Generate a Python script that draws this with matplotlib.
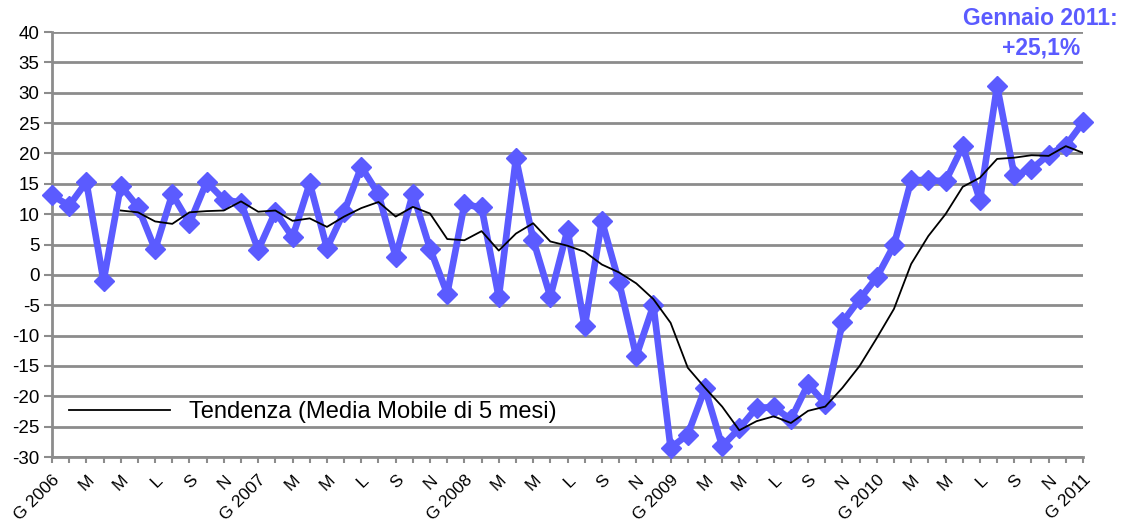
import matplotlib
matplotlib.use("Agg")
import matplotlib.pyplot as plt
import numpy as np

plt.rcParams['font.family'] = ['Liberation Sans', 'DejaVu Sans']
plt.rcParams['axes.unicode_minus'] = False

# monthly values, Jan 2006 .. Jan 2011 (% change)
valori = [13.1, 11.4, 15.3, -1.0, 14.7, 11.2, 4.2, 13.3, 8.5, 15.3,
          12.4, 11.9, 4.1, 10.4, 6.2, 15.1, 4.4, 10.4, 17.8, 13.3,
          3.0, 13.4, 4.3, -3.1, 11.6, 11.1, -3.7, 19.2, 5.8, -3.6,
          7.4, -8.5, 8.9, -1.2, -13.4, -5.0, -28.5, -26.3, -18.7, -28.2,
          -25.3, -21.9, -21.8, -23.8, -18.0, -21.2, -7.8, -4.0, -0.4, 4.9,
          15.6, 15.6, 15.4, 21.2, 12.3, 31.1, 16.4, 17.4, 19.8, 21.3, 25.1]

# trend line (5-month moving average), from May 2006
tendenza = [10.6, 10.3, 8.8, 8.4, 10.3, 10.5, 10.6, 12.1, 10.4, 10.6,
            8.9, 9.3, 7.9, 9.6, 11.0, 12.0, 9.6, 11.2, 10.1, 5.9,
            5.7, 7.2, 4.0, 6.8, 8.5, 5.5, 4.8, 3.8, 1.7, 0.4,
            -1.4, -4.0, -7.9, -15.3, -18.6, -21.7, -25.6, -24.1, -23.3, -24.4,
            -22.4, -21.7, -18.6, -15.0, -10.4, -5.6, 1.8, 6.4, 10.0, 14.5,
            16.0, 19.1, 19.3, 19.7, 19.6, 21.2, 20.1]

mesi = ["G", "M", "M", "L", "S", "N"]
anni = [2006, 2007, 2008, 2009, 2010, 2011]

etichette = []
for a in anni:
    for m in mesi:
        etichette.append(f"G {a}" if m == "G" else m)
etichette = etichette[:31]

blu = "#5B5BFF"
grigio = "#8C8C8C"

x = np.arange(len(valori))
xt = np.arange(4, len(valori))

fig = plt.figure(figsize=(11.22, 5.25), dpi=100)
ax = fig.add_axes([52 / 1122, 1 - 457 / 525, (1083 - 52) / 1122, (457 - 32) / 525])

ax.plot(x, valori, color=blu, lw=4.8, marker="D", ms=10, mec=blu, mfc=blu,
        clip_on=False, zorder=3)
ax.plot(xt, tendenza, color="black", lw=1.3, zorder=4,
        label="Tendenza (Media Mobile di 5 mesi)")

ax.set_xlim(0, len(valori) - 1)
ax.set_ylim(-30, 40)
ax.set_yticks(np.arange(-30, 41, 5))
ax.yaxis.grid(True, color=grigio, lw=2)
ax.set_axisbelow(True)

ax.set_xticks(np.arange(0, len(valori), 2))
ax.set_xticks(x, minor=True)
ax.set_xticklabels(etichette, rotation=45, ha="right", rotation_mode="anchor",
                   fontsize=12.5)
ax.tick_params(axis="x", which="both", length=4, width=1.5, color=grigio,
               direction="out", pad=7)
ax.tick_params(axis="y", length=6, width=1.5, color=grigio, labelsize=13.5, pad=3)

for s in ["top", "right"]:
    ax.spines[s].set_visible(False)
for s in ["left", "bottom"]:
    ax.spines[s].set_color(grigio)
    ax.spines[s].set_linewidth(2)

ax.legend(loc="lower left", bbox_to_anchor=(0.0, 0.04), frameon=False,
          fontsize=17, handlelength=4.3, handletextpad=0.8, borderaxespad=0.3)

fig.text(1118 / 1122, 1 - 7 / 525, "Gennaio 2011:", color=blu, fontsize=16.5,
         fontweight="bold", ha="right", va="top")
fig.text(1080 / 1122, 1 - 37 / 525, "+25,1%", color=blu, fontsize=16.5,
         fontweight="bold", ha="right", va="top")

fig.savefig("out.png", dpi=100)
